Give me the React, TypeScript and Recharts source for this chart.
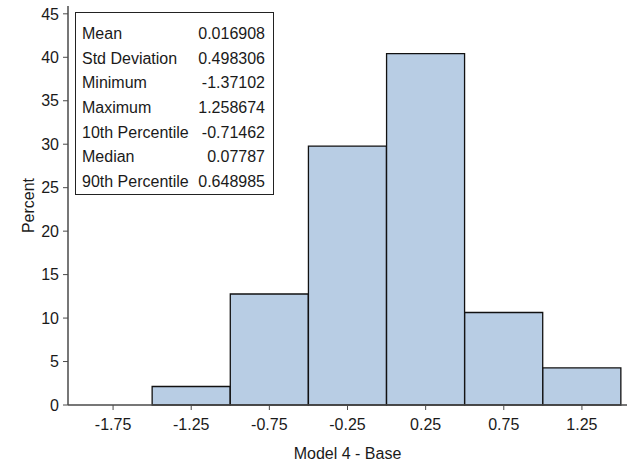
import { BarChart, Bar, XAxis, YAxis } from "recharts";

const binCenters = ["-1.75", "-1.25", "-0.75", "-0.25", "0.25", "0.75", "1.25"];
const percents = [0, 2.13, 12.77, 29.79, 40.43, 10.64, 4.26];
const yTicks = [0, 5, 10, 15, 20, 25, 30, 35, 40, 45];

const statLabels = [
  "Mean",
  "Std Deviation",
  "Minimum",
  "Maximum",
  "10th Percentile",
  "Median",
  "90th Percentile",
];
const statValues = [
  "0.016908",
  "0.498306",
  "-1.37102",
  "1.258674",
  "-0.71462",
  "0.07787",
  "0.648985",
];

const data = binCenters.map((bin, i) => ({ bin, pct: percents[i] }));

const font = '"Liberation Sans", Arial, sans-serif';
const axisColor = "#4a4a4a";
const tickStyle = { fill: "#1a1a1a", fontSize: 16, fontFamily: font };

function StatsBox() {
  return (
    <div
      style={{
        position: "absolute",
        left: 75,
        top: 12,
        width: 199,
        height: 183,
        border: "1px solid #222",
        background: "#fff",
        fontFamily: font,
        fontSize: 16,
        color: "#1a1a1a",
        boxSizing: "border-box",
        paddingTop: 12,
      }}
    >
      {statLabels.map((label, i) => (
        <div
          key={label}
          style={{
            display: "flex",
            justifyContent: "space-between",
            height: 24.7,
            lineHeight: "18px",
            paddingLeft: 6,
            paddingRight: 8,
          }}
        >
          <span>{label}</span>
          <span>{statValues[i]}</span>
        </div>
      ))}
    </div>
  );
}

export default function App() {
  return (
    <div
      style={{
        position: "absolute",
        left: 0,
        top: 0,
        width: 630,
        height: 464,
        background: "#fff",
      }}
    >
      <BarChart
        width={630}
        height={464}
        data={data}
        margin={{ top: 6, right: 3, left: 0, bottom: 0 }}
        barCategoryGap={0}
        barGap={0}
      >
        <XAxis
          dataKey="bin"
          height={59}
          padding={{ left: 6, right: 6 }}
          tick={tickStyle}
          tickLine={{ stroke: axisColor }}
          tickSize={5}
          tickMargin={9}
          axisLine={{ stroke: axisColor, strokeWidth: 1.5 }}
          label={{
            value: "Model 4 - Base",
            position: "insideBottom",
            offset: 5,
            style: tickStyle,
          }}
        />
        <XAxis
          xAxisId="top"
          dataKey="bin"
          orientation="top"
          height={0}
          tick={false}
          tickLine={false}
          axisLine={{ stroke: axisColor, strokeWidth: 1.5 }}
        />
        <YAxis
          width={68}
          domain={[0, 45.9]}
          ticks={yTicks}
          interval={0}
          tick={tickStyle}
          tickLine={{ stroke: axisColor }}
          tickSize={5}
          tickMargin={4}
          axisLine={{ stroke: axisColor, strokeWidth: 1.5 }}
          label={{
            value: "Percent",
            angle: -90,
            position: "insideLeft",
            offset: 28,
            style: { ...tickStyle, textAnchor: "middle" },
          }}
        />
        <YAxis
          yAxisId="right"
          orientation="right"
          width={0}
          domain={[0, 45.9]}
          tick={false}
          tickLine={false}
          axisLine={{ stroke: axisColor, strokeWidth: 1.5 }}
        />
        <Bar
          dataKey="pct"
          fill="#b8cde4"
          stroke="#111"
          strokeWidth={1.3}
          isAnimationActive={false}
        />
      </BarChart>
      <StatsBox />
    </div>
  );
}
